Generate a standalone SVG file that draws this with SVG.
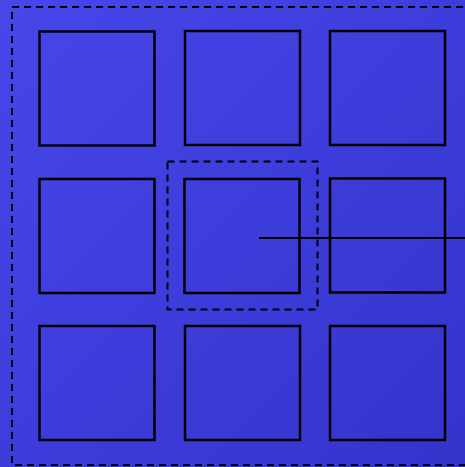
<svg xmlns="http://www.w3.org/2000/svg" width="465" height="467" viewBox="0 0 465 467">
<defs>
<linearGradient id="bg" x1="0" y1="0" x2="1" y2="1">
<stop offset="0" stop-color="#4747EA"/>
<stop offset="1" stop-color="#3333CC"/>
</linearGradient>
<style>
.box{fill:none;stroke:#000;stroke-width:2.5}
.dash{fill:none;stroke:#000;stroke-width:2;stroke-dasharray:7 5}
.conn{fill:none;stroke:#000;stroke-width:1.8}
</style>
</defs>
<rect x="0" y="0" width="465" height="467" fill="url(#bg)"/>
<g id="container"><rect class="dash" x="12" y="7" width="460" height="458"/></g>
<g id="group-highlight"><rect class="dash" x="167.5" y="161.5" width="150" height="148"/></g>
<g id="n1"><rect class="box" x="39.5" y="31.5" width="115" height="114"/></g>
<g id="n2"><rect class="box" x="185" y="31" width="115" height="114"/></g>
<g id="n3"><rect class="box" x="330" y="31" width="115" height="114"/></g>
<g id="n4"><rect class="box" x="39.5" y="179" width="115" height="114"/></g>
<g id="n5"><rect class="box" x="184.5" y="179" width="115" height="114"/></g>
<g id="n6"><rect class="box" x="330" y="178.5" width="115" height="114"/></g>
<g id="n7"><rect class="box" x="39.5" y="326" width="115" height="114"/></g>
<g id="n8"><rect class="box" x="185" y="326" width="115" height="114"/></g>
<g id="n9"><rect class="box" x="330" y="326" width="115" height="114"/></g>
<g id="connectors"><line class="conn" x1="259" y1="238" x2="466" y2="238"/></g>
</svg>
